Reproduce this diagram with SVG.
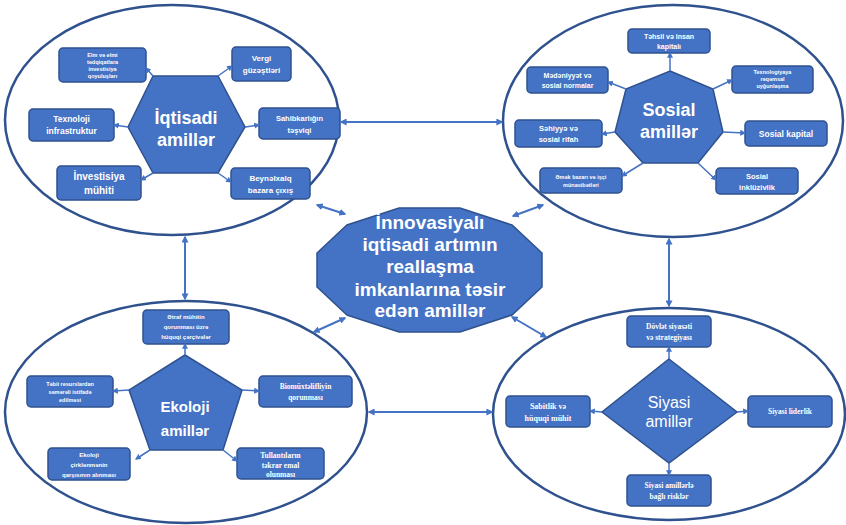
<svg xmlns="http://www.w3.org/2000/svg" width="846" height="525" viewBox="0 0 846 525">
<defs>
<style>
.ell{fill:#fff;stroke:#2F528F;stroke-width:2.5}
.sh{fill:#4472C4;stroke:#2F528F;stroke-width:1.5}
.bx{fill:#4472C4;stroke:#2F528F;stroke-width:1.5}
.t{fill:#fff;font-family:"Liberation Sans",Arial,sans-serif;font-weight:bold;text-anchor:middle}
.ts{fill:#fff;font-family:"Liberation Serif","Times New Roman",serif;font-weight:bold;text-anchor:middle}
.big{fill:#fff;font-family:"Liberation Sans",Arial,sans-serif;font-weight:bold;text-anchor:middle}
.c1{fill:none;stroke:#4472C4;stroke-width:2;marker-start:url(#a);marker-end:url(#a)}
.c2{fill:none;stroke:#4472C4;stroke-width:1.5;marker-end:url(#b)}
</style>
<marker id="a" viewBox="0 0 10 10" refX="8" refY="5" markerWidth="7" markerHeight="7" markerUnits="userSpaceOnUse" orient="auto-start-reverse"><path d="M0,0L10,5L0,10z" fill="#4472C4"/></marker>
<marker id="b" viewBox="0 0 10 10" refX="8" refY="5" markerWidth="6" markerHeight="6" markerUnits="userSpaceOnUse" orient="auto"><path d="M0,0L10,5L0,10z" fill="#4472C4"/></marker>
</defs>
<rect width="846" height="525" fill="#fff"/>

<g id="ellipse-iqtisadi"><ellipse class="ell" cx="172" cy="120" rx="167" ry="115"/></g>
<g id="ellipse-sosial"><ellipse class="ell" cx="673" cy="121" rx="170" ry="116"/></g>
<g id="ellipse-ekoloji"><ellipse class="ell" cx="186" cy="412" rx="181" ry="111"/></g>
<g id="ellipse-siyasi"><ellipse class="ell" cx="669" cy="414" rx="176" ry="106"/></g>

<g id="center">
<polygon class="sh" points="317,253 347,225 399,208 460,208 512,225 542,253 542,287 512,315 460,332 399,332 347,315 317,287"/>
<text class="big" font-size="19" x="430" y="229">İnnovasiyalı</text>
<text class="big" font-size="19" x="430" y="251">iqtisadi artımın</text>
<text class="big" font-size="19" x="430" y="273">reallaşma</text>
<text class="big" font-size="19" x="430" y="296">imkanlarına təsir</text>
<text class="big" font-size="19" x="430" y="317">edən amillər</text>
</g>

<g id="iqtisadi">
<polygon class="sh" points="128,127 153,76 218,76 245,127 218,173 153,173"/>
<text class="big" font-size="18" x="186" y="124">İqtisadi</text>
<text class="big" font-size="18" x="186" y="146">amillər</text>
</g>
<g id="iq-elm"><rect class="bx" x="59" y="48" width="87" height="34" rx="4"/>
<text class="t" font-size="5.5" x="102.5" y="57">Elm və elmi</text><text class="t" font-size="5.5" x="102.5" y="64">tədqiqatlara</text><text class="t" font-size="5.5" x="102.5" y="71">investisiya</text><text class="t" font-size="5.5" x="102.5" y="78">qoyuluşları</text></g>
<g id="iq-vergi"><rect class="bx" x="232" y="47" width="59" height="34" rx="4"/>
<text class="t" font-size="8" x="261.5" y="61">Vergi</text><text class="t" font-size="8" x="261.5" y="73">güzəştləri</text></g>
<g id="iq-texnoloji"><rect class="bx" x="29" y="109" width="85" height="32" rx="4"/>
<text class="t" font-size="8.5" x="71.5" y="122">Texnoloji</text><text class="t" font-size="8.5" x="71.5" y="134">infrastruktur</text></g>
<g id="iq-sahibkar"><rect class="bx" x="259" y="108" width="81" height="31" rx="4"/>
<text class="t" font-size="7.5" x="299.5" y="121">Sahibkarlığın</text><text class="t" font-size="7.5" x="299.5" y="133">təşviqi</text></g>
<g id="iq-investisiya"><rect class="bx" x="57" y="166" width="84" height="34" rx="4"/>
<text class="t" font-size="10" x="99" y="180">İnvestisiya</text><text class="t" font-size="10" x="99" y="194">mühiti</text></g>
<g id="iq-beynelxalq"><rect class="bx" x="231" y="168" width="79" height="31" rx="4"/>
<text class="t" font-size="8" x="270.5" y="181">Beynəlxalq</text><text class="t" font-size="8" x="270.5" y="193">bazara çıxış</text></g>

<g id="sosial">
<polygon class="sh" points="670,71 713,89 723,132 698,163 643,163 615,132 626,89"/>
<text class="big" font-size="18" x="669" y="116">Sosial</text>
<text class="big" font-size="18" x="669" y="138">amillər</text>
</g>
<g id="so-tehsil"><rect class="bx" x="628" y="29" width="82" height="24" rx="4"/>
<text class="t" font-size="7" x="669" y="39">Təhsil və insan</text><text class="t" font-size="7" x="669" y="49">kapitalı</text></g>
<g id="so-medeniyyet"><rect class="bx" x="527" y="67" width="81" height="26" rx="4"/>
<text class="t" font-size="7" x="567.5" y="78">Mədəniyyət və</text><text class="t" font-size="7" x="567.5" y="88">sosial normalar</text></g>
<g id="so-texnologiya"><rect class="bx" x="732" y="66" width="81" height="27" rx="4"/>
<text class="t" font-size="5.5" x="772.5" y="74">Texnologiyaya</text><text class="t" font-size="5.5" x="772.5" y="81">rəqəmsal</text><text class="t" font-size="5.5" x="772.5" y="88">uyğunlaşma</text></g>
<g id="so-sehiyye"><rect class="bx" x="515" y="120" width="87" height="27" rx="4"/>
<text class="t" font-size="7.5" x="558.5" y="131">Səhiyyə və</text><text class="t" font-size="7.5" x="558.5" y="142">sosial rifah</text></g>
<g id="so-kapital"><rect class="bx" x="745" y="121" width="82" height="25" rx="4"/>
<text class="t" font-size="8.5" x="786" y="137">Sosial kapital</text></g>
<g id="so-emek"><rect class="bx" x="540" y="168" width="82" height="25" rx="4"/>
<text class="t" font-size="5.5" x="581" y="179">Əmək bazarı və işçi</text><text class="t" font-size="5.5" x="581" y="187">münasibətləri</text></g>
<g id="so-inkluziv"><rect class="bx" x="716" y="168" width="82" height="26" rx="4"/>
<text class="t" font-size="7.5" x="757" y="179">Sosial</text><text class="t" font-size="7.5" x="757" y="190">inklüzivlik</text></g>

<g id="ekoloji">
<polygon class="sh" points="185,355 242,390 223,450 150,450 129,390"/>
<text class="big" font-size="15" x="185" y="412">Ekoloji</text>
<text class="big" font-size="15" x="185" y="436">amillər</text>
</g>
<g id="ek-etraf"><rect class="bx" x="143" y="310" width="86" height="34" rx="4"/>
<text class="t" font-size="6" x="186" y="319">Ətraf mühitin</text><text class="t" font-size="6" x="186" y="329">qorunması üzrə</text><text class="t" font-size="6" x="186" y="339">hüquqi çərçivələr</text></g>
<g id="ek-tebii"><rect class="bx" x="27" y="376" width="86" height="31" rx="4"/>
<text class="t" font-size="5.5" x="70" y="386">Təbii resurslardan</text><text class="t" font-size="5.5" x="70" y="394">səmərəli istifadə</text><text class="t" font-size="5.5" x="70" y="402">edilməsi</text></g>
<g id="ek-bio"><rect class="bx" x="259" y="376" width="93" height="31" rx="4"/>
<text class="ts" font-size="7.5" x="305.5" y="389">Biomüxtəlifliyin</text><text class="ts" font-size="7.5" x="305.5" y="400">qorunması</text></g>
<g id="ek-cirk"><rect class="bx" x="48" y="448" width="82" height="32" rx="4"/>
<text class="t" font-size="6" x="89" y="457">Ekoloji</text><text class="t" font-size="6" x="89" y="467">çirklənmənin</text><text class="t" font-size="6" x="89" y="477">qarşısının alınması</text></g>
<g id="ek-tullanti"><rect class="bx" x="237" y="448" width="87" height="31" rx="4"/>
<text class="ts" font-size="7.5" x="280.5" y="458">Tullantıların</text><text class="ts" font-size="7.5" x="280.5" y="468">təkrar emal</text><text class="ts" font-size="7.5" x="280.5" y="477">olunması</text></g>

<g id="siyasi">
<polygon class="sh" points="669,359 737,412 669,463 602,412"/>
<text fill="#fff" font-family="Liberation Sans,Arial,sans-serif" text-anchor="middle" font-size="16" x="669" y="408">Siyasi</text>
<text fill="#fff" font-family="Liberation Sans,Arial,sans-serif" text-anchor="middle" font-size="16" x="669" y="427">amillər</text>
</g>
<g id="si-dovlet"><rect class="bx" x="627" y="316" width="84" height="31" rx="4"/>
<text class="ts" font-size="7.5" x="669" y="329">Dövlət siyasəti</text><text class="ts" font-size="7.5" x="669" y="340">və strategiyası</text></g>
<g id="si-sabitlik"><rect class="bx" x="506" y="396" width="84" height="31" rx="4"/>
<text class="ts" font-size="8" x="548" y="409">Sabitlik və</text><text class="ts" font-size="8" x="548" y="421">hüquqi mühit</text></g>
<g id="si-lider"><rect class="bx" x="748" y="396" width="84" height="31" rx="4"/>
<text class="ts" font-size="7.5" x="790" y="414">Siyasi liderlik</text></g>
<g id="si-risk"><rect class="bx" x="627" y="475" width="84" height="31" rx="4"/>
<text class="ts" font-size="7.5" x="669" y="488">Siyasi amillərlə</text><text class="ts" font-size="7.5" x="669" y="499">bağlı risklər</text></g>

<g id="connectors">
<line class="c1" x1="341" y1="122" x2="502" y2="122"/>
<line class="c1" x1="185" y1="237" x2="185" y2="299"/>
<line class="c1" x1="669" y1="239" x2="669" y2="306"/>
<line class="c1" x1="369" y1="412" x2="492" y2="412"/>
<line class="c1" x1="317" y1="205" x2="345" y2="214"/>
<line class="c1" x1="513" y1="216" x2="543" y2="205"/>
<line class="c1" x1="345" y1="318" x2="314" y2="332"/>
<line class="c1" x1="512" y1="317" x2="546" y2="337"/>

<line class="c2" x1="153" y1="76" x2="146" y2="68"/>
<line class="c2" x1="218" y1="76" x2="232" y2="66"/>
<line class="c2" x1="128" y1="127" x2="114" y2="125"/>
<line class="c2" x1="245" y1="127" x2="259" y2="125"/>
<line class="c2" x1="153" y1="173" x2="141" y2="180"/>
<line class="c2" x1="218" y1="173" x2="231" y2="182"/>

<line class="c2" x1="670" y1="71" x2="670" y2="53"/>
<line class="c2" x1="626" y1="89" x2="608" y2="82"/>
<line class="c2" x1="713" y1="89" x2="732" y2="80"/>
<line class="c2" x1="615" y1="132" x2="602" y2="134"/>
<line class="c2" x1="723" y1="132" x2="745" y2="133"/>
<line class="c2" x1="643" y1="163" x2="622" y2="176"/>
<line class="c2" x1="698" y1="163" x2="716" y2="180"/>

<line class="c2" x1="185" y1="355" x2="185" y2="344"/>
<line class="c2" x1="129" y1="390" x2="113" y2="391"/>
<line class="c2" x1="242" y1="390" x2="259" y2="391"/>
<line class="c2" x1="150" y1="450" x2="136" y2="459"/>
<line class="c2" x1="223" y1="450" x2="237" y2="461"/>

<line class="c2" x1="669" y1="359" x2="669" y2="347"/>
<line class="c2" x1="602" y1="412" x2="590" y2="411"/>
<line class="c2" x1="737" y1="412" x2="748" y2="411"/>
<line class="c2" x1="669" y1="463" x2="669" y2="475"/>
</g>
</svg>
